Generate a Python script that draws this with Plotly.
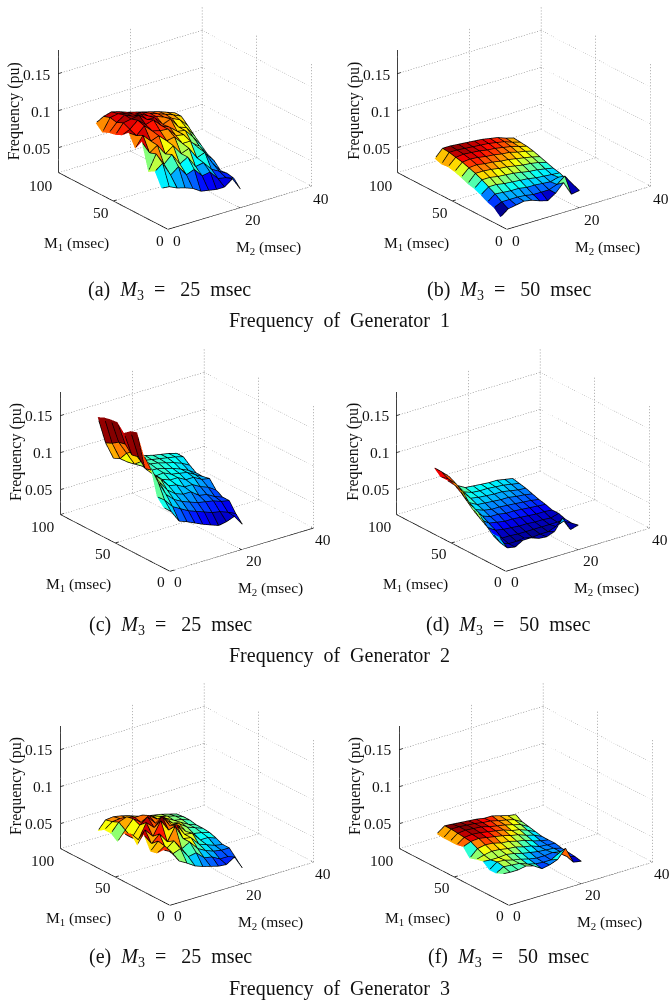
import math
import plotly.graph_objects as go

# Axis ticks and surface sample positions (msec)
M1_VALUES = [66, 60, 54, 48, 42, 36, 30, 24, 18, 12, 6]
M2_VALUES = [0, 2.2, 4.4, 6.6, 8.8, 11, 13.2, 15.4, 17.6, 19.8, 22]
M1_TICKS = [0, 50, 100]
M2_TICKS = [0, 20, 40]
FREQ_TICKS = [0.05, 0.1, 0.15]
FREQ_TICK_TEXT = ["0.05", "0.1", "0.15"]
FREQ_LIMITS = [0.0162, 0.182]

# Frequency in milli-pu; rows follow M1_VALUES, columns follow M2_VALUES
FREQ_A = [
    [109, 115, 118, 115, 111, 108, 105, 102, 99, 95, 91],
    [101, 118, 120, 117, 113, 112, 108, 104, 100, 96, 91],
    [105, 116, 123, 118, 118, 112, 108, 104, 99, 94, 83],
    [107, 120, 122, 124, 115, 114, 102, 106, 92, 88, 74],
    [111, 116, 125, 116, 119, 108, 103, 94, 92, 80, 66],
    [119, 112, 122, 112, 109, 108, 96, 94, 80, 72, 58],
    [102, 117, 106, 110, 100, 102, 90, 90, 78, 66, 54],
    [116, 98, 105, 90, 98, 84, 88, 72, 76, 58, 45],
    [80, 101, 84, 94, 78, 84, 68, 70, 58, 52, 46],
    [85, 93, 74, 82, 68, 72, 60, 62, 50, 48, 44],
    [67, 66, 61, 58, 54, 47, 45, 43, 43, 51, 34],
]
FREQ_B = [
    [61, 72, 72, 71, 70, 69, 68, 66, 64, 60, 57],
    [58, 71, 71, 70, 69, 68, 67, 65, 63, 59, 56],
    [59, 69, 70, 69, 68, 66, 65, 63, 61, 58, 55],
    [57, 67, 68, 67, 65, 64, 62, 61, 58, 56, 53],
    [54, 64, 65, 63, 62, 60, 59, 57, 55, 53, 50],
    [50, 61, 61, 60, 58, 57, 55, 53, 52, 50, 47],
    [48, 57, 57, 55, 54, 53, 51, 49, 48, 46, 44],
    [44, 52, 52, 50, 49, 48, 47, 45, 44, 43, 42],
    [39, 47, 46, 45, 45, 43, 43, 42, 41, 44, 38],
    [36, 41, 41, 41, 40, 38, 38, 38, 42, 50, 36],
    [28, 36, 38, 40, 38, 34, 31, 38, 49, 30, 32],
]
FREQ_C = [
    [174, 136, 112, 109, 106, 104, 103, 100, 98, 96, 93],
    [178, 140, 116, 108, 106, 104, 102, 100, 98, 96, 93],
    [180, 146, 128, 110, 104, 104, 102, 99, 96, 92, 86],
    [181, 148, 135, 118, 102, 102, 99, 96, 92, 87, 80],
    [171, 138, 132, 112, 100, 101, 96, 94, 92, 86, 80],
    [178, 140, 125, 110, 100, 96, 96, 90, 90, 84, 82],
    [181, 129, 118, 108, 96, 94, 88, 88, 82, 78, 71],
    [155, 131, 112, 98, 90, 86, 86, 78, 76, 70, 66],
    [144, 120, 100, 90, 84, 80, 76, 74, 72, 68, 66],
    [108, 100, 88, 82, 76, 72, 68, 64, 62, 58, 53],
    [98, 89, 73, 69, 64, 59, 55, 51, 53, 57, 43],
]
FREQ_D = [
    [106, 97, 87, 72, 66, 65, 64, 63, 63, 61, 59],
    [98, 92, 82, 68, 64, 63, 63, 62, 61, 59, 57],
    [98, 88, 76, 64, 62, 61, 60, 60, 58, 56, 55],
    [98, 82, 66, 60, 59, 58, 57, 57, 55, 54, 52],
    [94, 74, 61, 57, 55, 55, 54, 53, 52, 51, 49],
    [85, 66, 57, 53, 53, 51, 51, 50, 49, 48, 47],
    [78, 60, 52, 50, 48, 48, 47, 46, 45, 45, 44],
    [74, 54, 47, 45, 44, 43, 43, 42, 42, 41, 44],
    [65, 46, 41, 41, 40, 40, 40, 40, 40, 40, 41],
    [58, 42, 38, 38, 39, 37, 38, 38, 42, 46, 40],
    [58, 40, 38, 44, 44, 40, 39, 43, 58, 39, 42],
]
FREQ_E = [
    [66, 78, 79, 77, 74, 70, 67, 65, 63, 60, 57],
    [72, 80, 81, 78, 76, 72, 72, 68, 65, 62, 58],
    [72, 84, 88, 84, 84, 76, 72, 70, 64, 62, 58],
    [65, 78, 90, 82, 88, 80, 76, 68, 66, 60, 56],
    [81, 72, 86, 94, 82, 88, 74, 72, 64, 60, 56],
    [86, 74, 94, 84, 96, 80, 78, 66, 60, 58, 55],
    [74, 92, 80, 98, 82, 86, 70, 68, 56, 56, 52],
    [93, 78, 88, 74, 92, 72, 70, 58, 54, 50, 48],
    [75, 86, 72, 80, 66, 72, 60, 54, 50, 48, 48],
    [77, 84, 70, 74, 60, 62, 52, 50, 44, 44, 39],
    [86, 81, 65, 59, 52, 48, 45, 42, 41, 48, 30],
]
FREQ_F = [
    [62, 70, 69, 68, 67, 66, 64, 64, 61, 58, 56],
    [61, 70, 70, 69, 68, 66, 65, 62, 60, 57, 51],
    [61, 69, 70, 69, 68, 65, 63, 61, 58, 55, 49],
    [61, 68, 69, 68, 66, 64, 62, 58, 56, 52, 47],
    [63, 67, 68, 66, 64, 62, 59, 57, 53, 50, 45],
    [52, 62, 64, 63, 60, 59, 56, 54, 50, 47, 45],
    [55, 58, 60, 59, 57, 56, 53, 51, 47, 46, 45],
    [57, 56, 56, 57, 55, 52, 50, 48, 47, 46, 43],
    [50, 58, 57, 54, 52, 49, 47, 47, 48, 46, 42],
    [50, 56, 55, 54, 50, 47, 46, 46, 52, 44, 41],
    [54, 53, 53, 55, 52, 45, 47, 51, 63, 41, 39],
]
PANELS = [FREQ_A, FREQ_B, FREQ_C, FREQ_D, FREQ_E, FREQ_F]
_cap = "\u00a0\u00a0<i>M</i><sub>3</sub>\u00a0\u00a0=\u00a0\u00a0\u00a0{}\u00a0\u00a0msec"
CAPTIONS = [
    "(a)" + _cap.format(25),
    "(b)" + _cap.format(50),
    "(c)" + _cap.format(25),
    "(d)" + _cap.format(50),
    "(e)" + _cap.format(25),
    "(f)" + _cap.format(50),
]
GROUP_TITLES = [
    "Frequency\u00a0\u00a0of\u00a0\u00a0Generator\u00a0\u00a01",
    "Frequency\u00a0\u00a0of\u00a0\u00a0Generator\u00a0\u00a02",
    "Frequency\u00a0\u00a0of\u00a0\u00a0Generator\u00a0\u00a03",
]

# Layout in page pixels
W, H = 672, 1000
ORIGINS = [(168.3, 230.7), (507.7, 230.7), (170, 571.7), (506.7, 571.7), (170, 905.7), (509, 905.7)]
CAPTION_POS = [(169, 290), (509, 290), (170, 625), (508, 625), (170, 957), (508, 957)]
GROUP_POS = [(339.5, 321), (339, 655), (339, 988)]
HALF_W, HALF_H = 135, 118
EYE_DIR = (-0.557, -0.731, 0.395)
EYE_LEN = 3
ASPECT = dict(x=1.53, y=1.53, z=1.132)
PX_PER_UNIT = (4.5, 1.8, 808.0)   # scene scale per data unit along M2, M1, frequency
EDGE_LIFT_PX = 2.5                # patch edges sit this far in front of the patches
DOT_ON, DOT_OFF = 1.3, 2.0
FONT = "Liberation Serif"
TICK_SIZE = 15.5
TITLE_SIZE = 16
CAP_SIZE = 20
INK = "#111"
JET = [
    [0, "rgb(0,0,143)"], [0.125, "rgb(0,0,255)"], [0.375, "rgb(0,255,255)"],
    [0.625, "rgb(255,255,0)"], [0.875, "rgb(255,0,0)"], [1, "rgb(128,0,0)"],
]

fig = go.Figure()
layout_scenes = {}
zlo, zhi = FREQ_LIMITS
xmax, ymax = max(M2_TICKS), max(M1_TICKS)


def segs(lines):
    xs, ys, zs = [], [], []
    for a, b in lines:
        xs += [a[0], b[0], None]
        ys += [a[1], b[1], None]
        zs += [a[2], b[2], None]
    return xs, ys, zs


def dots(a, b):
    length = math.sqrt(sum(((b[k] - a[k]) * PX_PER_UNIT[k]) ** 2 for k in range(3)))
    out, s = [], 0.0
    while s < length:
        e = min(s + DOT_ON, length)
        p = tuple(a[k] + (b[k] - a[k]) * s / length for k in range(3))
        q = tuple(a[k] + (b[k] - a[k]) * e / length for k in range(3))
        out.append((p, q))
        s += DOT_ON + DOT_OFF
    return out


LIFT = tuple(EYE_DIR[k] * EDGE_LIFT_PX / PX_PER_UNIT[k] for k in range(3))

for n, milli in enumerate(PANELS):
    sid = "scene" if n == 0 else f"scene{n + 1}"
    Z = [[v / 1000 for v in row] for row in milli]
    zall = [v for row in Z for v in row]
    nr, nc = len(M1_VALUES), len(M2_VALUES)
    vx, vy, vz, ti, tj, tk, cell = [], [], [], [], [], [], []
    for r in range(nr):
        for c in range(nc):
            vx.append(M2_VALUES[c])
            vy.append(M1_VALUES[r])
            vz.append(Z[r][c])
    for r in range(nr - 1):
        for c in range(nc - 1):
            a = r * nc + c
            b = a + 1
            d = (r + 1) * nc + c
            e = d + 1
            ti += [a, b]
            tj += [b, e]
            tk += [d, d]
            # flat colour per patch comes from its corner with the lowest M1 and M2
            cell += [Z[r + 1][c], Z[r + 1][c]]
    fig.add_trace(go.Mesh3d(
        x=vx, y=vy, z=vz, i=ti, j=tj, k=tk, intensity=cell, intensitymode="cell",
        colorscale=JET, cmin=min(zall), cmax=max(zall), showscale=False, flatshading=True, hoverinfo="skip",
        lighting=dict(ambient=1, diffuse=0, specular=0, roughness=1, fresnel=0),
        scene=sid,
    ))
    # patch edges
    edges = []

    def pt(r, c):
        return (M2_VALUES[c] + LIFT[0], M1_VALUES[r] + LIFT[1], Z[r][c] + LIFT[2])

    for r in range(nr):
        for c in range(nc):
            if c + 1 < nc:
                edges.append((pt(r, c), pt(r, c + 1)))
            if r + 1 < nr:
                edges.append((pt(r, c), pt(r + 1, c)))
    xs, ys, zs = segs(edges)
    fig.add_trace(go.Scatter3d(x=xs, y=ys, z=zs, mode="lines", line=dict(color="black", width=1.5),
                               hoverinfo="skip", showlegend=False, scene=sid))
    # dotted grid on the floor and back walls
    grid = []
    for t in M2_TICKS:
        grid += dots((t, 0, zlo), (t, ymax, zlo))
        grid += dots((t, ymax, zlo), (t, ymax, zhi))
    for t in M1_TICKS:
        grid += dots((0, t, zlo), (xmax, t, zlo))
        grid += dots((xmax, t, zlo), (xmax, t, zhi))
    for t in FREQ_TICKS:
        grid += dots((0, ymax, t), (xmax, ymax, t))
        grid += dots((xmax, ymax, t), (xmax, 0, t))
    xs, ys, zs = segs(grid)
    fig.add_trace(go.Scatter3d(x=xs, y=ys, z=zs, mode="lines", line=dict(color="rgb(110,110,110)", width=1),
                               hoverinfo="skip", showlegend=False, scene=sid))
    # black axes with ticks
    ax = [((0, 0, zlo), (xmax, 0, zlo)), ((0, 0, zlo), (0, ymax, zlo)), ((0, ymax, zlo), (0, ymax, zhi))]
    for t in M2_TICKS:
        ax.append(((t, 0, zlo), (t, 2.5, zlo)))
    for t in M1_TICKS:
        ax.append(((0, t, zlo), (1, t, zlo)))
    for t in FREQ_TICKS:
        ax.append(((0, ymax, t), (1, ymax, t)))
    xs, ys, zs = segs(ax)
    fig.add_trace(go.Scatter3d(x=xs, y=ys, z=zs, mode="lines", line=dict(color="black", width=1.5),
                               hoverinfo="skip", showlegend=False, scene=sid))

    font = dict(family=FONT, size=TICK_SIZE, color=INK)
    tfont = dict(family=FONT, size=TITLE_SIZE, color=INK)
    ann = []
    for t, txt in zip(FREQ_TICKS, FREQ_TICK_TEXT):
        ann.append(dict(x=0, y=ymax, z=t, text=txt, showarrow=False, xanchor="right", yanchor="middle",
                        xshift=-6, yshift=0, font=font))
    for t, (dx, dy) in zip(M1_TICKS, [(-8, -11), (-12, -11), (-17, -12)]):
        ann.append(dict(x=0, y=t, z=zlo, text=str(t), showarrow=False, xshift=dx, yshift=dy, font=font))
    for t, (dx, dy) in zip(M2_TICKS, [(9, -11), (13, -11.5), (10, -12)]):
        ann.append(dict(x=t, y=0, z=zlo, text=str(t), showarrow=False, xshift=dx, yshift=dy, font=font))
    ann.append(dict(x=0, y=50, z=zlo, text="M<sub>1</sub> (msec)", showarrow=False, xshift=-36, yshift=-42, font=font))
    ann.append(dict(x=20, y=0, z=zlo, text="M<sub>2</sub> (msec)", showarrow=False, xshift=29, yshift=-39, font=font))
    ann.append(dict(x=0, y=ymax, z=0.1, text="Frequency (pu)", showarrow=False, textangle=-90, xshift=-44, yshift=0, font=tfont))

    ox, oy = ORIGINS[n]
    cx, cy = ox + 16.5, oy - 112.2
    axis = dict(visible=False, showgrid=False, showspikes=False, showbackground=False, zeroline=False)
    layout_scenes[sid] = dict(
        domain=dict(x=[(cx - HALF_W) / W, (cx + HALF_W) / W], y=[1 - (cy + HALF_H) / H, 1 - (cy - HALF_H) / H]),
        xaxis=dict(range=[0, xmax], **axis),
        yaxis=dict(range=[0, ymax], **axis),
        zaxis=dict(range=[zlo, zhi], **axis),
        aspectmode="manual",
        aspectratio=ASPECT,
        camera=dict(
            eye=dict(x=EYE_DIR[0] * EYE_LEN, y=EYE_DIR[1] * EYE_LEN, z=EYE_DIR[2] * EYE_LEN),
            up=dict(x=0, y=0, z=1), center=dict(x=0, y=0, z=0),
            projection=dict(type="orthographic"),
        ),
        annotations=ann,
    )

paper_ann = []
for txt, (x, y) in zip(CAPTIONS, CAPTION_POS):
    paper_ann.append(dict(x=x / W, y=1 - y / H, xref="paper", yref="paper", text=txt, showarrow=False,
                          xanchor="center", yanchor="middle",
                          font=dict(family=FONT, size=CAP_SIZE, color=INK)))
for txt, (x, y) in zip(GROUP_TITLES, GROUP_POS):
    paper_ann.append(dict(x=x / W, y=1 - y / H, xref="paper", yref="paper", text=txt, showarrow=False,
                          xanchor="center", yanchor="middle",
                          font=dict(family=FONT, size=CAP_SIZE, color=INK)))

fig.update_layout(width=W, height=H, margin=dict(l=0, r=0, t=0, b=0), paper_bgcolor="white",
                  showlegend=False, annotations=paper_ann, **layout_scenes)
fig.write_html("out.html", config=dict(displayModeBar=False),
               post_script="document.body.style.margin='0';document.body.style.overflow='hidden';window.dispatchEvent(new Event('resize'));")
